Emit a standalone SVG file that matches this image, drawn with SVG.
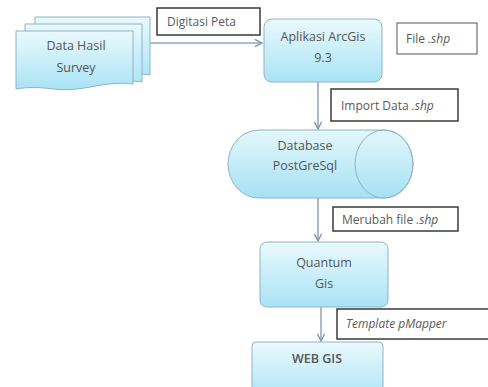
<svg xmlns="http://www.w3.org/2000/svg" width="488" height="387" viewBox="0 0 488 387">
<defs>
<linearGradient id="g" x1="0" y1="0" x2="0" y2="1">
<stop offset="0" stop-color="#eaf9fd"/>
<stop offset="1" stop-color="#a9e3f5"/>
</linearGradient>
<linearGradient id="gc" x1="0" y1="0" x2="0" y2="1">
<stop offset="0" stop-color="#e4f7fc"/>
<stop offset="1" stop-color="#a6e1f3"/>
</linearGradient>
<marker id="ah" viewBox="0 0 10 10" refX="9" refY="5" markerWidth="9" markerHeight="9" markerUnits="userSpaceOnUse" orient="auto">
<path d="M1,1 L9,5 L1,9" fill="none" stroke="#7d97ad" stroke-width="1.5"/>
</marker>
</defs>
<style>
.n{fill:url(#g);stroke:#8fb3c4;stroke-width:1}
.t{font-family:"Open Sans","Liberation Sans",sans-serif;font-size:12.5px;fill:#555;text-anchor:middle}
.lb{fill:#fff;stroke:#3a3a3a;stroke-width:1.5}
.lt{font-family:"Open Sans","Liberation Sans",sans-serif;font-size:12px;fill:#5a5a5a}
.c{stroke:#8ea6bb;stroke-width:1.5;fill:none}
</style>
<rect width="488" height="387" fill="#fff"/>
<g id="connectors">
<line class="c" x1="149" y1="43" x2="262" y2="43" marker-end="url(#ah)"/>
<line class="c" x1="318" y1="82" x2="318" y2="129" marker-end="url(#ah)"/>
<line class="c" x1="318" y1="198" x2="318" y2="241" marker-end="url(#ah)"/>
<line class="c" x1="321" y1="307" x2="321" y2="341" marker-end="url(#ah)"/>
</g>
<g id="survey">
<path class="n" d="M35,17 H150 V75 C120,69 100,85 70,79 C55,76 45,74 35,76 Z"/>
<path class="n" d="M25,24 H142 V82 C112,76 92,92 62,86 C47,83 37,81 25,83 Z"/>
<path class="n" d="M16,31 H133 V84 C103,80 83,93 53,89 C38,87 28,87 16,89 Z"/>
<text class="t" x="76" y="50">Data Hasil</text>
<text class="t" x="76" y="72">Survey</text>
</g>
<g id="lbl-digitasi">
<rect class="lb" x="157" y="8" width="103" height="27"/>
<text class="lt" x="167" y="26">Digitasi Peta</text>
</g>
<g id="arcgis">
<rect class="n" x="264" y="19" width="118" height="63" rx="8"/>
<text class="t" x="323" y="41">Aplikasi ArcGis</text>
<text class="t" x="323" y="62">9.3</text>
</g>
<g id="lbl-file">
<rect x="397" y="23" width="80" height="31" fill="#fff" stroke="#555" stroke-width="1"/>
<text class="lt" x="406" y="43">File <tspan font-style="italic">.shp</tspan></text>
</g>
<g id="lbl-import">
<rect class="lb" x="331" y="89" width="127" height="32"/>
<text class="lt" x="341" y="110">Import Data <tspan font-style="italic">.shp</tspan></text>
</g>
<g id="database">
<path d="M259,130 H384 A29,34 0 0 1 384,198 H259 A31,34 0 0 1 259,130 Z" fill="url(#gc)" stroke="#8fb3c4" stroke-width="1"/>
<ellipse cx="384" cy="164" rx="29" ry="34" fill="none" stroke="#8fb3c4" stroke-width="1"/>
<text class="t" x="305" y="150">Database</text>
<text class="t" x="305" y="170">PostGreSql</text>
</g>
<g id="lbl-merubah">
<rect class="lb" x="333" y="207" width="125" height="24"/>
<text class="lt" x="342" y="224">Merubah file <tspan font-style="italic">.shp</tspan></text>
</g>
<g id="quantum">
<rect class="n" x="260" y="242" width="128" height="65" rx="7"/>
<text class="t" x="324" y="267">Quantum</text>
<text class="t" x="324" y="288">Gis</text>
</g>
<g id="lbl-template">
<rect class="lb" x="337" y="309" width="160" height="30"/>
<text class="lt" x="346" y="328" font-style="italic">Template pMapper</text>
</g>
<g id="webgis">
<rect class="n" x="252" y="342" width="131" height="60" rx="4"/>
<text class="t" x="317" y="363" font-weight="600" fill="#4f5a64">WEB GIS</text>
</g>
</svg>
